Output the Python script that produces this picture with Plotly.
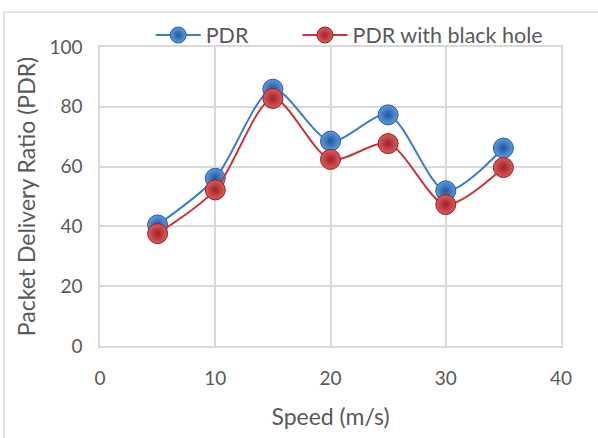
import plotly.graph_objects as go

speed = [5, 10, 15, 20, 25, 30, 35]
pdr = [40.5, 56.1, 85.9, 68.5, 77.3, 51.9, 66.2]
pdr_black_hole = [37.6, 52.2, 82.8, 62.4, 67.7, 47.3, 59.7]
x_ticks = [0, 10, 20, 30, 40]
y_ticks = [0, 20, 40, 60, 80, 100]

FONT = "Lato"
GRAY = "#595959"
GRID = "#d9d9d9"
PAD = "\u00a0" * 8

fig = go.Figure()
fig.add_trace(go.Scatter(
    x=speed, y=pdr, name="PDR" + PAD, mode="lines+markers",
    line=dict(color="#3d7cc9", width=2, shape="spline", smoothing=0.8),
    marker=dict(size=20, color="#5b9be0", line=dict(color="#2a5a9a", width=1),
                gradient=dict(type="radial", color="#22569a")),
))
fig.add_trace(go.Scatter(
    x=speed, y=pdr_black_hole, name="PDR with black hole", mode="lines+markers",
    line=dict(color="#c8373a", width=2, shape="spline", smoothing=0.8),
    marker=dict(size=20, color="#e05a5c", line=dict(color="#8c2224", width=1),
                gradient=dict(type="radial", color="#9a2326")),
))

fig.update_layout(
    width=598, height=438,
    margin=dict(l=100, r=37, t=47, b=90),
    paper_bgcolor="white", plot_bgcolor="white",
    font=dict(family=FONT, color=GRAY, size=18),
    showlegend=True,
    legend=dict(orientation="h", x=0.11, y=1.04, xanchor="left", yanchor="middle",
                font=dict(size=21.5, color=GRAY), bgcolor="rgba(0,0,0,0)",
                itemwidth=45, tracegroupgap=0),
    shapes=[dict(type="rect", xref="paper", yref="paper",
                 x0=(4 - 100) / 461, x1=(610 - 100) / 461,
                 y0=(348 - 450) / 301, y1=(348 - 12) / 301,
                 line=dict(color=GRID, width=1.5), layer="below")],
)
fig.update_xaxes(
    range=[0, 40], tickvals=x_ticks, showgrid=True, gridcolor=GRID, gridwidth=1.5,
    showline=True, linecolor=GRID, linewidth=1.5, mirror=True, zeroline=False,
    ticks="", ticklabelstandoff=14, tickfont=dict(size=19, color=GRAY),
    title=dict(text="Speed (m/s)", font=dict(size=23, color=GRAY), standoff=21),
)
fig.update_yaxes(
    range=[0, 100], tickvals=y_ticks, showgrid=True, gridcolor=GRID, gridwidth=1.5,
    showline=True, linecolor=GRID, linewidth=1.5, mirror=True, zeroline=False,
    ticks="", ticklabelstandoff=12, tickfont=dict(size=19, color=GRAY),
    title=dict(text="Packet Delivery Ratio (PDR)", font=dict(size=23, color=GRAY), standoff=7),
)

fig.write_html("out.html")
